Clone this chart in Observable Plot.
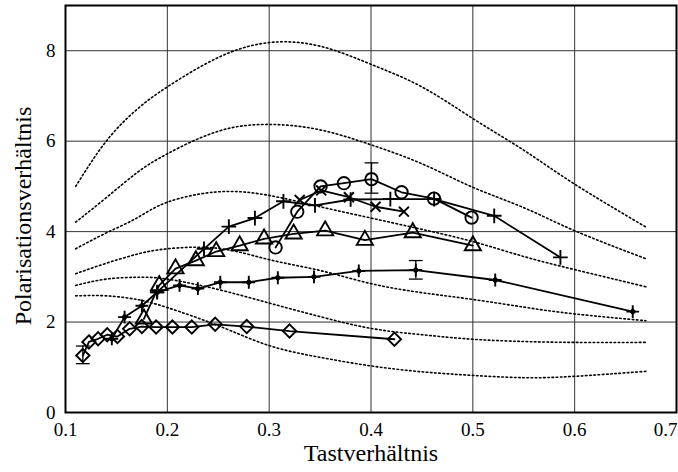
<!DOCTYPE html>
<html><head><meta charset="utf-8">
<script src="https://cdn.jsdelivr.net/npm/d3@7"></script>
<script src="https://cdn.jsdelivr.net/npm/@observablehq/plot@0.6"></script>
<style>body{margin:0;background:#fff}</style>
</head><body><div id="chart"></div>
<script>
// ---- ticks ----
const xTicks = [0.1, 0.2, 0.3, 0.4, 0.5, 0.6, 0.7];
const yTicks = [0, 2, 4, 6, 8];

// ---- dotted theory curves (shared x grid) ----
const theoryX = [0.11, 0.14, 0.17, 0.2, 0.25, 0.3, 0.35, 0.4, 0.45, 0.5, 0.55, 0.6, 0.67];
const theory1 = [5.0, 6.0, 6.7, 7.2, 7.85, 8.18, 8.1, 7.7, 7.2, 6.5, 5.8, 5.05, 4.1];
const theory2 = [4.21, 4.75, 5.3, 5.72, 6.22, 6.37, 6.25, 5.92, 5.5, 4.98, 4.53, 4.02, 3.4];
const theory3 = [3.62, 3.97, 4.3, 4.65, 4.88, 4.8, 4.55, 4.3, 4.05, 3.78, 3.45, 3.16, 2.78];
const theory4 = [3.07, 3.3, 3.5, 3.62, 3.63, 3.38, 3.14, 2.85, 2.65, 2.5, 2.33, 2.18, 2.03];
const theory5 = [2.81, 2.95, 2.99, 2.95, 2.72, 2.42, 2.12, 1.86, 1.72, 1.62, 1.57, 1.55, 1.55];
const theory6 = [2.58, 2.58, 2.5, 2.32, 1.92, 1.48, 1.22, 1.03, 0.9, 0.82, 0.77, 0.8, 0.91];

// ---- measured series ----
const diamondX = [0.117, 0.123, 0.132, 0.141, 0.151, 0.163, 0.175, 0.189, 0.205, 0.224, 0.247, 0.278, 0.32, 0.423];
const diamondY = [1.26, 1.56, 1.63, 1.72, 1.68, 1.85, 1.90, 1.89, 1.89, 1.89, 1.95, 1.90, 1.80, 1.62];

const starX = [0.1455, 0.158, 0.175, 0.19, 0.212, 0.23, 0.252, 0.28, 0.3085, 0.344, 0.388, 0.444, 0.522, 0.657];
const starY = [1.63, 2.11, 2.36, 2.66, 2.81, 2.74, 2.88, 2.88, 2.98, 3.0, 3.13, 3.15, 2.93, 2.23];

const triangleX = [0.177, 0.192, 0.208, 0.228, 0.248, 0.271, 0.295, 0.324, 0.355, 0.394, 0.441, 0.5];
const triangleY = [2.07, 2.81, 3.18, 3.36, 3.56, 3.69, 3.84, 3.95, 4.02, 3.81, 3.98, 3.69];

const plusX = [0.19, 0.236, 0.2604, 0.286, 0.314, 0.345, 0.38, 0.419, 0.462, 0.521, 0.586];
const plusY = [2.66, 3.62, 4.11, 4.3, 4.67, 4.58, 4.71, 4.72, 4.72, 4.35, 3.43];

const circleX = [0.3063, 0.3276, 0.3505, 0.3734, 0.4005, 0.43, 0.4618, 0.4988];
const circleY = [3.65, 4.44, 5.0, 5.07, 5.16, 4.87, 4.73, 4.31];

const timesX = [0.33, 0.3511, 0.3783, 0.4045, 0.4323];
const timesY = [4.70, 4.91, 4.76, 4.55, 4.44];

// error bars
const errX = [0.117, 0.4005, 0.444];
const errLo = [1.08, 4.85, 2.95];
const errHi = [1.47, 5.52, 3.36];

// ---- build tables ----
const pts = (xs, ys) => xs.map((x, i) => ({x, y: ys[i]}));
const theory = [theory1, theory2, theory3, theory4, theory5, theory6]
  .flatMap((ys, k) => ys.map((y, i) => ({x: theoryX[i], y, k})));
const errs = errX.map((x, i) => ({x, lo: errLo[i], hi: errHi[i]}));
const capSymbol = {draw(ctx, size) { const w = Math.sqrt(size); ctx.moveTo(-w, 0); ctx.lineTo(w, 0); }};

const lineOpts = {x: "x", y: "y", stroke: "black", strokeWidth: 1.8};
const dotOpts = {x: "x", y: "y", stroke: "black", strokeWidth: 1.9, fill: "none"};

const chart = Plot.plot({
  width: 678, height: 472,
  marginLeft: 65, marginRight: 2, marginTop: 5, marginBottom: 60,
  style: {fontFamily: "'Liberation Serif', 'Times New Roman', serif", background: "white", color: "black"},
  x: {domain: [0.1, 0.7]},
  y: {domain: [0, 9]},
  marks: [
    Plot.gridX(xTicks.slice(1, -1), {stroke: "#333", strokeOpacity: 1, strokeWidth: 1}),
    Plot.gridY(yTicks.slice(1), {stroke: "#333", strokeOpacity: 1, strokeWidth: 1}),
    Plot.axisX(xTicks.slice(0, -1), {tickSize: 0, tickPadding: 10, tickFormat: d => d.toFixed(1), fontSize: 19, label: null}),
    Plot.axisX(xTicks.slice(-1), {tickSize: 0, tickPadding: 10, tickFormat: d => d.toFixed(1), fontSize: 19, label: null, dx: -11}),
    Plot.axisY(yTicks, {tickSize: 0, tickPadding: 10, fontSize: 19, label: null}),
    Plot.line(theory, {x: "x", y: "y", z: "k", curve: "natural", stroke: "black", strokeWidth: 1.6, strokeDasharray: "1.6 2.6"}),
    // series lines
    Plot.line(pts(diamondX, diamondY), lineOpts),
    Plot.line(pts(starX, starY), lineOpts),
    Plot.line(pts(triangleX, triangleY), lineOpts),
    Plot.line(pts(plusX, plusY), lineOpts),
    Plot.line(pts(circleX, circleY), lineOpts),
    Plot.line(pts(timesX, timesY), lineOpts),
    // error bars
    Plot.ruleX(errs, {x: "x", y1: "lo", y2: "hi", stroke: "black", strokeWidth: 1.3}),
    Plot.dot(errs, {x: "x", y: "lo", symbol: capSymbol, r: 3.9, stroke: "black", strokeWidth: 1.3, fill: "none"}),
    Plot.dot(errs, {x: "x", y: "hi", symbol: capSymbol, r: 3.9, stroke: "black", strokeWidth: 1.3, fill: "none"}),
    // markers
    Plot.dot(pts(diamondX, diamondY), {...dotOpts, symbol: "diamond2", r: 6}),
    Plot.dot(pts(starX, starY), {x: "x", y: "y", symbol: "diamond2", r: 2.8, fill: "black", stroke: "black", strokeWidth: 1}),
    Plot.dot(pts(starX, starY), {...dotOpts, symbol: "plus", r: 4.2}),
    Plot.dot(pts(triangleX, triangleY), {...dotOpts, symbol: "triangle", r: 6}),
    Plot.dot(pts(plusX, plusY), {...dotOpts, symbol: "plus", r: 4.8}),
    Plot.dot(pts(circleX, circleY), {...dotOpts, symbol: "circle", r: 6.2}),
    Plot.dot(pts(timesX, timesY), {...dotOpts, symbol: "times", r: 4.6}),
    Plot.frame({stroke: "black", strokeWidth: 2}),
    // axis titles
    Plot.text(["Tastverhältnis"], {text: d => d, frameAnchor: "bottom", dy: 48, fontSize: 24, fill: "black"}),
    Plot.text(["Polarisationsverhältnis"], {text: d => d, frameAnchor: "left", textAnchor: "middle", rotate: -90, dx: -42, dy: 7, fontSize: 24, fill: "black"})
  ]
});
document.getElementById("chart").appendChild(chart);
</script>
</body></html>
